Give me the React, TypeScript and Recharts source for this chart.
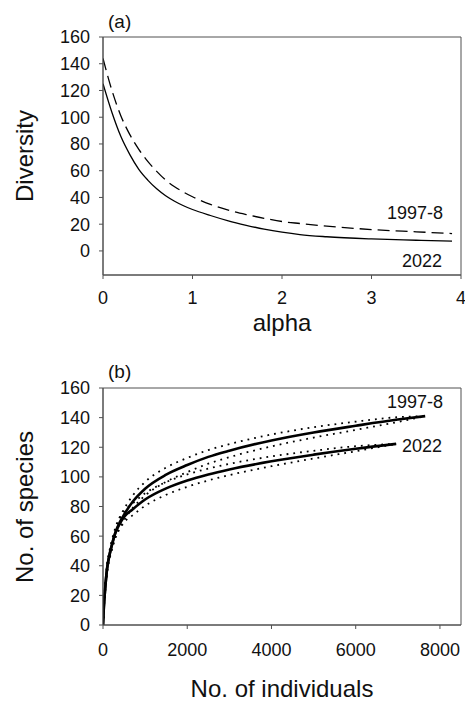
import React from 'react';
import { LineChart, Line, XAxis, YAxis, ReferenceArea } from 'recharts';

const FONT = '"Liberation Sans", Arial, Helvetica, sans-serif';
const AXIS = '#505050';
const INK = '#111111';

// Panel (a): diversity profiles
const alphaValues = [0, 0.1, 0.2, 0.3, 0.4, 0.5, 0.6, 0.7, 0.8, 0.9, 1.0, 1.2, 1.4, 1.6, 1.8, 2.0, 2.2, 2.5, 3.0, 3.5, 3.9];
const diversity1997 = [144, 120, 101, 87, 76, 67, 59.5, 53, 48, 44, 40.5, 34.8, 30.5, 27.2, 24.4, 22, 20.5, 18.5, 16, 14.3, 13];
const diversity2022 = [125, 103.5, 85.5, 72, 61, 53, 46.5, 41.3, 37.2, 33.8, 31, 26.5, 22.5, 19.2, 16.3, 14, 12.2, 10.6, 9, 8, 7.3];

// Panel (b): rarefaction curves with confidence limits
const individuals1997 = [0, 20, 50, 100, 150, 200, 300, 400, 500, 700, 1000, 1500, 2000, 2500, 3000, 4000, 5000, 6000, 7000, 7650];
const species1997 = [0, 12, 24, 39, 47, 53, 63, 69.5, 74.5, 83, 92, 101.5, 108, 113.5, 117.7, 124.6, 130, 134.5, 138.7, 141];
const upper1997 = [0, 13, 25.5, 41, 49.5, 55.8, 66.2, 73, 78.3, 87.2, 96.6, 106.3, 112.8, 118.1, 122.1, 128.6, 133.5, 137.3, 140.3, 141];
const lower1997 = [0, 11, 22.5, 37, 44.5, 50.2, 59.8, 66, 70.7, 78.8, 87.4, 96.7, 103.2, 108.9, 113.3, 120.6, 126.5, 131.7, 137.1, 141];

const individuals2022 = [0, 20, 50, 100, 150, 200, 300, 400, 500, 700, 1000, 1500, 2000, 2500, 3000, 4000, 5000, 6000, 6960];
const species2022 = [0, 12, 24, 38.5, 46.5, 52.5, 62.5, 68.5, 73, 78, 84.7, 92.2, 97.5, 101.6, 105, 110.5, 115, 119, 122.3];
const upper2022 = [0, 13, 25.5, 40.5, 49, 55.3, 65.7, 72, 76.7, 82, 88.9, 96.5, 101.7, 105.6, 108.8, 113.8, 117.6, 120.7, 122.3];
const lower2022 = [0, 11, 22.5, 36.5, 44, 49.7, 59.3, 65, 69.3, 74, 80.5, 87.9, 93.3, 97.6, 101.2, 107.2, 112.4, 117.3, 122.3];

const alphaTicks = [0, 1, 2, 3, 4];
const diversityTicks = [0, 20, 40, 60, 80, 100, 120, 140, 160];
const individualTicks = [0, 2000, 4000, 6000, 8000];
const speciesTicks = [0, 20, 40, 60, 80, 100, 120, 140, 160];

const toPoints = (xs: number[], ys: number[]) => xs.map((x, i) => ({ x, y: ys[i] }));

const tickStyle = { fill: INK, fontSize: 18, fontFamily: FONT };

export default function App() {
  const a1997 = toPoints(alphaValues, diversity1997);
  const a2022 = toPoints(alphaValues, diversity2022);
  const b1997 = toPoints(individuals1997, species1997);
  const b1997u = toPoints(individuals1997, upper1997);
  const b1997l = toPoints(individuals1997, lower1997);
  const b2022 = toPoints(individuals2022, species2022);
  const b2022u = toPoints(individuals2022, upper2022);
  const b2022l = toPoints(individuals2022, lower2022);

  return (
    <div style={{ position: 'absolute', left: 0, top: 0, width: 465, height: 703, background: '#fff', overflow: 'hidden' }}>
      <div style={{ position: 'absolute', left: 0, top: 0 }}>
        <LineChart width={465} height={340} margin={{ top: 37, right: 4, bottom: 0, left: 0 }}>
          <XAxis type="number" dataKey="x" domain={[0, 4]} ticks={alphaTicks} interval={0} allowDataOverflow
            tickSize={4} tickMargin={12} height={65} stroke={AXIS} tick={tickStyle} />
          <YAxis type="number" domain={[-18, 160]} ticks={diversityTicks} interval={0} allowDataOverflow
            width={103} tickSize={4} tickMargin={9} stroke={AXIS} tick={tickStyle} />
          <ReferenceArea x1={0} x2={4} y1={-18} y2={160} fill="none" stroke={AXIS} strokeWidth={1} fillOpacity={0} />
          <Line data={a1997} dataKey="y" type="monotone" stroke="#000" strokeWidth={1.3} strokeDasharray="12 6" dot={false} isAnimationActive={false} />
          <Line data={a2022} dataKey="y" type="monotone" stroke="#000" strokeWidth={1.3} dot={false} isAnimationActive={false} />
        </LineChart>
      </div>
      <div style={{ position: 'absolute', left: 0, top: 340 }}>
        <LineChart width={465} height={363} margin={{ top: 48, right: 4, bottom: 0, left: 0 }}>
          <XAxis type="number" dataKey="x" domain={[0, 8500]} ticks={individualTicks} interval={0} allowDataOverflow
            tickSize={4} tickMargin={14} height={78} stroke={AXIS} tick={tickStyle} />
          <YAxis type="number" domain={[0, 160]} ticks={speciesTicks} interval={0} allowDataOverflow
            width={103} tickSize={4} tickMargin={9} stroke={AXIS} tick={tickStyle} />
          <ReferenceArea x1={0} x2={8500} y1={0} y2={160} fill="none" stroke={AXIS} strokeWidth={1} fillOpacity={0} />
          <Line data={b1997u} dataKey="y" type="monotone" stroke="#000" strokeWidth={1.8} strokeDasharray="1.8 5" dot={false} isAnimationActive={false} />
          <Line data={b1997l} dataKey="y" type="monotone" stroke="#000" strokeWidth={1.8} strokeDasharray="1.8 5" dot={false} isAnimationActive={false} />
          <Line data={b2022u} dataKey="y" type="monotone" stroke="#000" strokeWidth={1.8} strokeDasharray="1.8 5" dot={false} isAnimationActive={false} />
          <Line data={b2022l} dataKey="y" type="monotone" stroke="#000" strokeWidth={1.8} strokeDasharray="1.8 5" dot={false} isAnimationActive={false} />
          <Line data={b1997} dataKey="y" type="monotone" stroke="#000" strokeWidth={2.6} dot={false} isAnimationActive={false} />
          <Line data={b2022} dataKey="y" type="monotone" stroke="#000" strokeWidth={2.6} dot={false} isAnimationActive={false} />
        </LineChart>
      </div>
      <svg width={465} height={703} style={{ position: 'absolute', left: 0, top: 0, pointerEvents: 'none' }}
        fontFamily={FONT} fill={INK}>
        <text x={108} y={27.5} fontSize={19}>(a)</text>
        <text x={443} y={219} fontSize={18} textAnchor="end">1997-8</text>
        <text x={442} y={266.5} fontSize={18} textAnchor="end">2022</text>
        <text x={33} y={156} fontSize={24} textAnchor="middle" transform="rotate(-90 33 156)">Diversity</text>
        <text x={282} y={330.5} fontSize={24} textAnchor="middle">alpha</text>
        <text x={108} y={378} fontSize={19}>(b)</text>
        <text x={443} y={408} fontSize={18} textAnchor="end">1997-8</text>
        <text x={442} y={451.5} fontSize={18} textAnchor="end">2022</text>
        <text x={33} y={507} fontSize={24} textAnchor="middle" transform="rotate(-90 33 507)">No. of species</text>
        <text x={282} y={697} fontSize={24} textAnchor="middle">No. of individuals</text>
      </svg>
    </div>
  );
}
